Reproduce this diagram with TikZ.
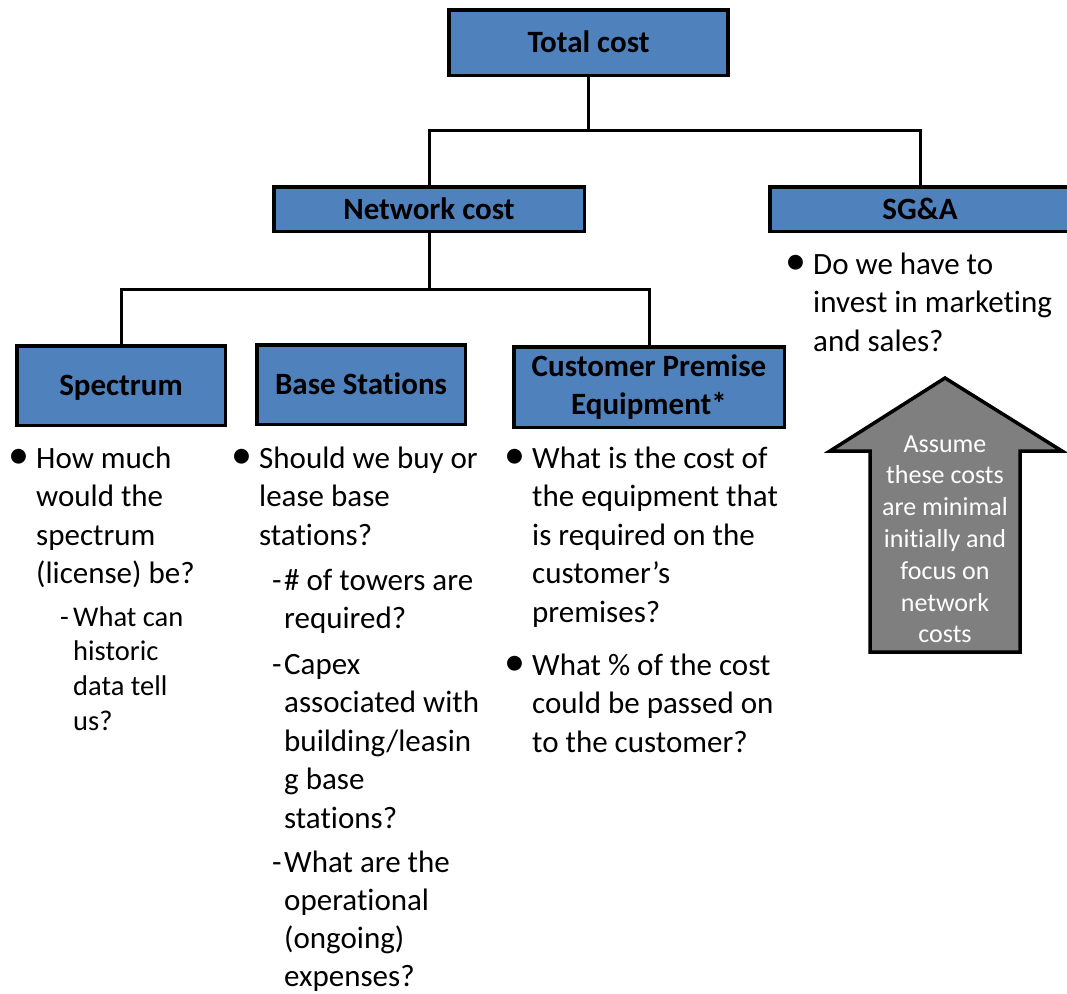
\documentclass[tikz,border=0pt]{standalone}
\usepackage{fontspec}
\setmainfont{Carlito}[Ligatures={NoCommon}]
\definecolor{boxblue}{HTML}{4F81BD}
\definecolor{arrowgray}{HTML}{7F7F7F}
\tikzset{
  box/.style={draw=black, line width=3.5pt, fill=boxblue, inner sep=0pt,
    font={\fontsize{31}{38}\selectfont\bfseries}},
  oneline/.style={text height=20pt, text depth=0pt},
  conn/.style={line width=3pt},
  txt/.style={anchor=base west, inner sep=0pt, font={\fontsize{31}{38.6}\selectfont}},
  subtxt/.style={anchor=base west, inner sep=0pt, font={\fontsize{28.5}{34.7}\selectfont}},
  dot/.style={anchor=center, inner sep=0pt, font={\fontsize{42}{42}\selectfont}},
  arrowtxt/.style={anchor=base, inner sep=0pt, text=white, font={\fontsize{26}{31.8}\selectfont}},
}
\begin{document}
\begin{tikzpicture}[x=1pt, y=-1pt]
\useasboundingbox (0,0) rectangle (1067,993);

% boxes
\node[box, oneline, minimum width=279pt, minimum height=65.5pt] (total) at (588.5,42.5) {Total cost};
\node[box, oneline, minimum width=310.5pt, minimum height=44.5pt] (net) at (429,209) {Network cost};
\node[box, oneline, minimum width=300.5pt, minimum height=44.5pt] (sga) at (920,209) {SG\&A};
\node[box, oneline, minimum width=208.5pt, minimum height=79.5pt] (spec) at (121,385.5) {Spectrum};
\node[box, oneline, minimum width=208.5pt, minimum height=79.5pt] (base) at (361,384.5) {Base Stations};
\node[box, align=center, minimum width=270.5pt, minimum height=80.5pt] (cpe) at (649,387) {Customer Premise\\Equipment*};

% connectors
\coordinate (j1) at (588.5,130);
\coordinate (j2) at (429,289);
\draw[conn] (total.south) -- (j1);
\draw[conn] (net.north) |- (j1) -| (sga.north);
\draw[conn] (net.south) -- (j2);
\draw[conn] (spec.north) |- (j2) -| (cpe.north);

% Spectrum column
\node[dot] (d1) at (19,459) {•};
\node[txt] (t1) at (36,468) {\parbox[t]{220pt}{\raggedright How much\\would the\\spectrum\\(license) be?}};
\node[subtxt] (s1d) at (60,626) {-};
\node[subtxt] (s1) at (73,626) {\parbox[t]{200pt}{\raggedright What can\\historic\\data tell\\us?}};

% Base Stations column
\node[dot] (d2) at (242,459) {•};
\node[txt] (t2) at (259,468) {\parbox[t]{260pt}{\raggedright Should we buy or\\lease base\\stations?}};
\node[txt] (s2ad) at (272,590) {-};
\node[txt] (s2a) at (284,590) {\parbox[t]{260pt}{\raggedright \# of towers are\\required?}};
\node[txt] (s2bd) at (272,674) {-};
\node[txt] (s2b) at (284,674) {\parbox[t]{260pt}{\raggedright Capex\\associated with\\building/leasin\\g base\\stations?}};
\node[txt] (s2cd) at (272,872) {-};
\node[txt] (s2c) at (284,872) {\fontsize{31}{38.3}\selectfont\parbox[t]{260pt}{\raggedright What are the\\operational\\(ongoing)\\expenses?}};

% CPE column
\node[dot] (d3) at (515,459) {•};
\node[txt] (t3) at (532,468) {\parbox[t]{280pt}{\raggedright What is the cost of\\the equipment that\\is required on the\\customer’s\\premises?}};
\node[dot] (d4) at (515,666) {•};
\node[txt] (t4) at (532,675) {\parbox[t]{280pt}{\raggedright What \% of the cost\\could be passed on\\to the customer?}};

% SG&A column
\node[dot] (d5) at (796,265) {•};
\node[txt] (t5) at (813,274) {\parbox[t]{280pt}{\raggedright Do we have to\\invest in marketing\\and sales?}};

% arrow
\draw[line width=3.5pt, fill=arrowgray, line join=miter]
  (945,378) -- (1062,451) -- (1020,451) -- (1020,652) -- (870,652) -- (870,451) -- (830,451) -- cycle;
\node[arrowtxt] (at) at (945,452) {\parbox[t]{160pt}{\centering Assume\\these costs\\are minimal\\initially and\\focus on\\network\\costs}};
\end{tikzpicture}
\end{document}
